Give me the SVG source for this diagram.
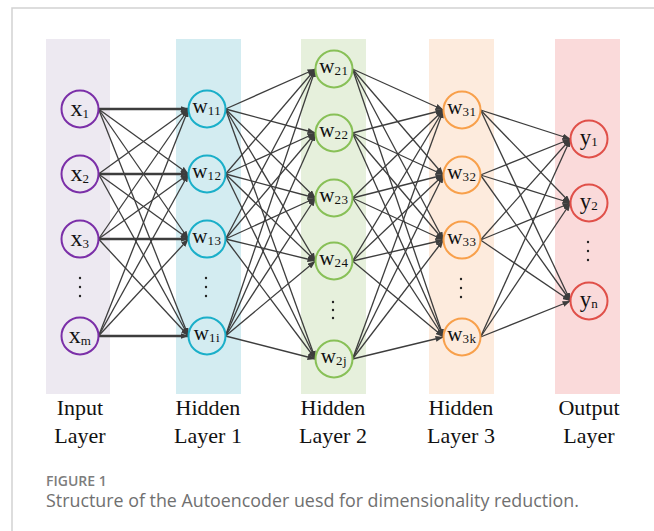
<svg xmlns="http://www.w3.org/2000/svg" width="654" height="531" viewBox="0 0 654 531">
<defs>
<style>
.e{stroke:#3d3d3d;stroke-width:1.3;fill:none;marker-end:url(#ah)}
.t{stroke-width:2.6}
.n{fill:none;stroke-width:2}
.lb{font-family:"Liberation Serif","Times New Roman",serif;fill:#111;text-anchor:middle}
.sub{font-size:13px;letter-spacing:0.6px}
.cap{font-family:"Liberation Serif","Times New Roman",serif;font-size:22px;fill:#111;text-anchor:middle}
.dot{fill:#222}
</style>
<marker id="ah" viewBox="0 0 8 6" refX="8" refY="3" markerWidth="8" markerHeight="6" markerUnits="userSpaceOnUse" orient="auto">
<path d="M0,0 L8,3 L0,6 z" fill="#3d3d3d"/>
</marker>
</defs>
<rect width="654" height="531" fill="#fff"/>
<path d="M12,531 V8 H654" fill="none" stroke="#d2d2d2" stroke-width="1.5"/>
<g id="bands">
<rect x="46" y="39" width="64" height="355" fill="#ede9f1"/>
<rect x="176" y="39" width="65" height="355" fill="#d3ecf1"/>
<rect x="301" y="39" width="65" height="355" fill="#e6f0dc"/>
<rect x="429" y="39" width="65" height="355" fill="#fdebdd"/>
<rect x="555" y="39" width="65" height="355" fill="#fadada"/>
</g>
<g id="connectors">
<line class="e t" x1="98.5" y1="109" x2="188.5" y2="109"/>
<line class="e" x1="98.5" y1="109" x2="188.5" y2="174"/>
<line class="e" x1="98.5" y1="109" x2="188.5" y2="239"/>
<line class="e" x1="98.5" y1="109" x2="188.5" y2="336"/>
<line class="e" x1="98.5" y1="174" x2="188.5" y2="109"/>
<line class="e t" x1="98.5" y1="174" x2="188.5" y2="174"/>
<line class="e" x1="98.5" y1="174" x2="188.5" y2="239"/>
<line class="e" x1="98.5" y1="174" x2="188.5" y2="336"/>
<line class="e" x1="98.5" y1="239" x2="188.5" y2="109"/>
<line class="e" x1="98.5" y1="239" x2="188.5" y2="174"/>
<line class="e t" x1="98.5" y1="239" x2="188.5" y2="239"/>
<line class="e" x1="98.5" y1="239" x2="188.5" y2="336"/>
<line class="e" x1="98.5" y1="336" x2="188.5" y2="109"/>
<line class="e" x1="98.5" y1="336" x2="188.5" y2="174"/>
<line class="e" x1="98.5" y1="336" x2="188.5" y2="239"/>
<line class="e t" x1="98.5" y1="336" x2="188.5" y2="336"/>

<line class="e" x1="225.5" y1="109" x2="315.5" y2="69"/>
<line class="e" x1="225.5" y1="109" x2="315.5" y2="133"/>
<line class="e" x1="225.5" y1="109" x2="315.5" y2="198"/>
<line class="e" x1="225.5" y1="109" x2="315.5" y2="261"/>
<line class="e" x1="225.5" y1="109" x2="315.5" y2="359"/>
<line class="e" x1="225.5" y1="174" x2="315.5" y2="69"/>
<line class="e" x1="225.5" y1="174" x2="315.5" y2="133"/>
<line class="e" x1="225.5" y1="174" x2="315.5" y2="198"/>
<line class="e" x1="225.5" y1="174" x2="315.5" y2="261"/>
<line class="e" x1="225.5" y1="174" x2="315.5" y2="359"/>
<line class="e" x1="225.5" y1="239" x2="315.5" y2="69"/>
<line class="e" x1="225.5" y1="239" x2="315.5" y2="133"/>
<line class="e" x1="225.5" y1="239" x2="315.5" y2="198"/>
<line class="e" x1="225.5" y1="239" x2="315.5" y2="261"/>
<line class="e" x1="225.5" y1="239" x2="315.5" y2="359"/>
<line class="e" x1="225.5" y1="336" x2="315.5" y2="69"/>
<line class="e" x1="225.5" y1="336" x2="315.5" y2="133"/>
<line class="e" x1="225.5" y1="336" x2="315.5" y2="198"/>
<line class="e" x1="225.5" y1="336" x2="315.5" y2="261"/>
<line class="e" x1="225.5" y1="336" x2="315.5" y2="359"/>

<line class="e" x1="352.5" y1="69" x2="443.5" y2="110"/>
<line class="e" x1="352.5" y1="69" x2="443.5" y2="175"/>
<line class="e" x1="352.5" y1="69" x2="443.5" y2="240"/>
<line class="e" x1="352.5" y1="69" x2="443.5" y2="337"/>
<line class="e" x1="352.5" y1="133" x2="443.5" y2="110"/>
<line class="e" x1="352.5" y1="133" x2="443.5" y2="175"/>
<line class="e" x1="352.5" y1="133" x2="443.5" y2="240"/>
<line class="e" x1="352.5" y1="133" x2="443.5" y2="337"/>
<line class="e" x1="352.5" y1="198" x2="443.5" y2="110"/>
<line class="e" x1="352.5" y1="198" x2="443.5" y2="175"/>
<line class="e" x1="352.5" y1="198" x2="443.5" y2="240"/>
<line class="e" x1="352.5" y1="198" x2="443.5" y2="337"/>
<line class="e" x1="352.5" y1="261" x2="443.5" y2="110"/>
<line class="e" x1="352.5" y1="261" x2="443.5" y2="175"/>
<line class="e" x1="352.5" y1="261" x2="443.5" y2="240"/>
<line class="e" x1="352.5" y1="261" x2="443.5" y2="337"/>
<line class="e" x1="352.5" y1="359" x2="443.5" y2="110"/>
<line class="e" x1="352.5" y1="359" x2="443.5" y2="175"/>
<line class="e" x1="352.5" y1="359" x2="443.5" y2="240"/>
<line class="e" x1="352.5" y1="359" x2="443.5" y2="337"/>

<line class="e" x1="480.5" y1="110" x2="570.5" y2="139"/>
<line class="e" x1="480.5" y1="110" x2="570.5" y2="203"/>
<line class="e" x1="480.5" y1="110" x2="570.5" y2="301"/>
<line class="e" x1="480.5" y1="175" x2="570.5" y2="139"/>
<line class="e" x1="480.5" y1="175" x2="570.5" y2="203"/>
<line class="e" x1="480.5" y1="175" x2="570.5" y2="301"/>
<line class="e" x1="480.5" y1="240" x2="570.5" y2="139"/>
<line class="e" x1="480.5" y1="240" x2="570.5" y2="203"/>
<line class="e" x1="480.5" y1="240" x2="570.5" y2="301"/>
<line class="e" x1="480.5" y1="337" x2="570.5" y2="139"/>
<line class="e" x1="480.5" y1="337" x2="570.5" y2="203"/>
<line class="e" x1="480.5" y1="337" x2="570.5" y2="301"/>
</g>

<g id="x1"><circle class="n" cx="80" cy="109" r="18.5" stroke="#7b2fa8"/><text class="lb" x="80" y="116" font-size="24">x<tspan class="sub" dy="2">1</tspan></text></g>
<g id="x2"><circle class="n" cx="80" cy="174" r="18.5" stroke="#7b2fa8"/><text class="lb" x="80" y="181" font-size="24">x<tspan class="sub" dy="2">2</tspan></text></g>
<g id="x3"><circle class="n" cx="80" cy="239" r="18.5" stroke="#7b2fa8"/><text class="lb" x="80" y="246" font-size="24">x<tspan class="sub" dy="2">3</tspan></text></g>
<g id="xm"><circle class="n" cx="80" cy="336" r="18.5" stroke="#7b2fa8"/><text class="lb" x="80" y="343" font-size="24">x<tspan class="sub" dy="2">m</tspan></text></g>
<g id="xdots"><circle class="dot" cx="80" cy="278" r="1.2"/><circle class="dot" cx="80" cy="287" r="1.2"/><circle class="dot" cx="80" cy="296" r="1.2"/></g>

<g id="w11"><circle class="n" cx="207" cy="109" r="18.5" stroke="#1aafc9"/><text class="lb" x="207" y="113" font-size="21">w<tspan class="sub" dy="2">11</tspan></text></g>
<g id="w12"><circle class="n" cx="207" cy="174" r="18.5" stroke="#1aafc9"/><text class="lb" x="207" y="178" font-size="21">w<tspan class="sub" dy="2">12</tspan></text></g>
<g id="w13"><circle class="n" cx="207" cy="239" r="18.5" stroke="#1aafc9"/><text class="lb" x="207" y="243" font-size="21">w<tspan class="sub" dy="2">13</tspan></text></g>
<g id="w1i"><circle class="n" cx="207" cy="336" r="18.5" stroke="#1aafc9"/><text class="lb" x="207" y="340" font-size="21">w<tspan class="sub" dy="2">1i</tspan></text></g>
<g id="w1dots"><circle class="dot" cx="206" cy="278" r="1.2"/><circle class="dot" cx="206" cy="287" r="1.2"/><circle class="dot" cx="206" cy="296" r="1.2"/></g>

<g id="w21"><circle class="n" cx="334" cy="69" r="18.5" stroke="#88c057"/><text class="lb" x="334" y="73" font-size="21">w<tspan class="sub" dy="2">21</tspan></text></g>
<g id="w22"><circle class="n" cx="334" cy="133" r="18.5" stroke="#88c057"/><text class="lb" x="334" y="137" font-size="21">w<tspan class="sub" dy="2">22</tspan></text></g>
<g id="w23"><circle class="n" cx="334" cy="198" r="18.5" stroke="#88c057"/><text class="lb" x="334" y="202" font-size="21">w<tspan class="sub" dy="2">23</tspan></text></g>
<g id="w24"><circle class="n" cx="334" cy="261" r="18.5" stroke="#88c057"/><text class="lb" x="334" y="265" font-size="21">w<tspan class="sub" dy="2">24</tspan></text></g>
<g id="w2j"><circle class="n" cx="334" cy="359" r="18.5" stroke="#88c057"/><text class="lb" x="334" y="363" font-size="21">w<tspan class="sub" dy="2">2j</tspan></text></g>
<g id="w2dots"><circle class="dot" cx="333" cy="302" r="1.2"/><circle class="dot" cx="333" cy="310" r="1.2"/><circle class="dot" cx="333" cy="318" r="1.2"/></g>

<g id="w31"><circle class="n" cx="462" cy="110" r="18.5" stroke="#f8a04b"/><text class="lb" x="462" y="114" font-size="21">w<tspan class="sub" dy="2">31</tspan></text></g>
<g id="w32"><circle class="n" cx="462" cy="175" r="18.5" stroke="#f8a04b"/><text class="lb" x="462" y="179" font-size="21">w<tspan class="sub" dy="2">32</tspan></text></g>
<g id="w33"><circle class="n" cx="462" cy="240" r="18.5" stroke="#f8a04b"/><text class="lb" x="462" y="244" font-size="21">w<tspan class="sub" dy="2">33</tspan></text></g>
<g id="w3k"><circle class="n" cx="462" cy="337" r="18.5" stroke="#f8a04b"/><text class="lb" x="462" y="341" font-size="21">w<tspan class="sub" dy="2">3k</tspan></text></g>
<g id="w3dots"><circle class="dot" cx="461" cy="279" r="1.2"/><circle class="dot" cx="461" cy="288" r="1.2"/><circle class="dot" cx="461" cy="297" r="1.2"/></g>

<g id="y1"><circle class="n" cx="589" cy="139" r="18.5" stroke="#e05049"/><text class="lb" x="589" y="145" font-size="23">y<tspan class="sub" dy="1">1</tspan></text></g>
<g id="y2"><circle class="n" cx="589" cy="203" r="18.5" stroke="#e05049"/><text class="lb" x="589" y="209" font-size="23">y<tspan class="sub" dy="1">2</tspan></text></g>
<g id="yn"><circle class="n" cx="589" cy="301" r="18.5" stroke="#e05049"/><text class="lb" x="589" y="307" font-size="23">y<tspan class="sub" dy="1">n</tspan></text></g>
<g id="ydots"><circle class="dot" cx="588" cy="242" r="1.2"/><circle class="dot" cx="588" cy="251" r="1.2"/><circle class="dot" cx="588" cy="260" r="1.2"/></g>

<g id="labels">
<text class="cap" x="80" y="415">Input</text><text class="cap" x="80" y="443">Layer</text>
<text class="cap" x="208" y="415">Hidden</text><text class="cap" x="208" y="443">Layer 1</text>
<text class="cap" x="333" y="415">Hidden</text><text class="cap" x="333" y="443">Layer 2</text>
<text class="cap" x="461" y="415">Hidden</text><text class="cap" x="461" y="443">Layer 3</text>
<text class="cap" x="589" y="415">Output</text><text class="cap" x="589" y="443">Layer</text>
</g>
<g id="caption">
<text x="46" y="486" font-family="'Open Sans','Liberation Sans',sans-serif" font-size="14" font-weight="600" fill="#7d7d7d">FIGURE 1</text>
<text x="46" y="507" font-family="'Open Sans','Liberation Sans',sans-serif" font-size="17.5" fill="#707070" textLength="533" lengthAdjust="spacingAndGlyphs">Structure of the Autoencoder uesd for dimensionality reduction.</text>
</g>
</svg>
